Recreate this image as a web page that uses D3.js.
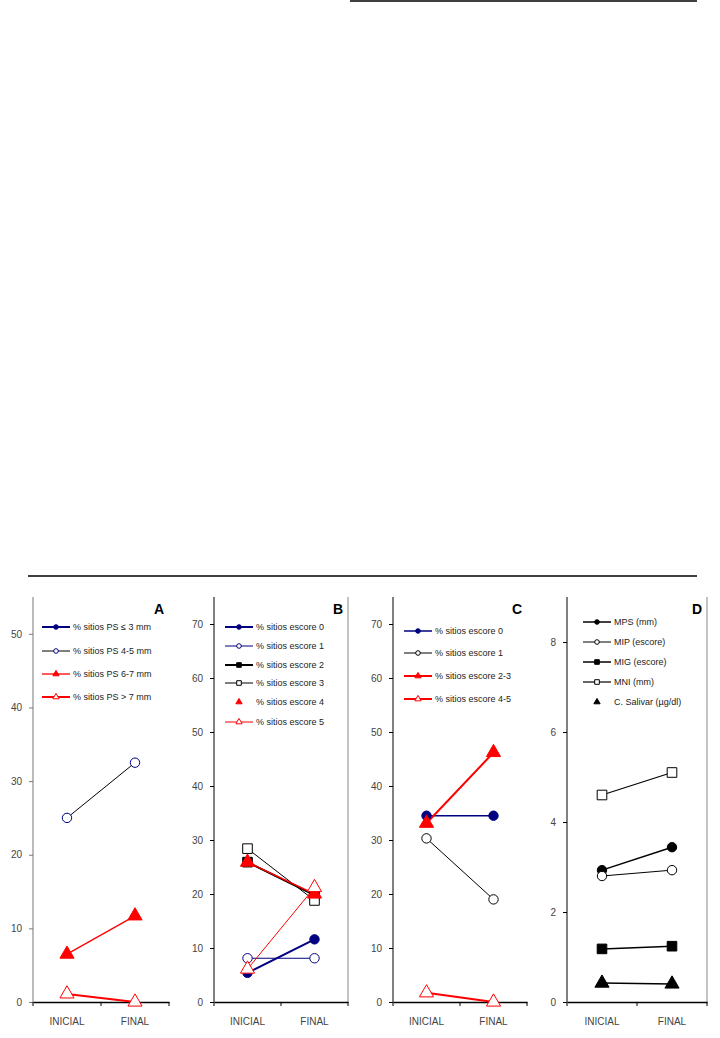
<!DOCTYPE html>
<html>
<head>
<meta charset="utf-8">
<script src="https://cdn.jsdelivr.net/npm/d3@7"></script>
<style>
  body { margin: 0; background: #fff; }
  text { font-family: "Liberation Sans", Arial, sans-serif; }
</style>
</head>
<body>
<svg id="chart" width="720" height="1038"></svg>
<script>
var categories = ['INICIAL', 'FINAL'];

// panel A
var namesA = ['% sitios PS \u2264 3 mm', '% sitios PS 4-5 mm', '% sitios PS 6-7 mm', '% sitios PS > 7 mm'];
var valuesA = [null, [25, 32.5], [6.5, 11.7], [1.1, 0]];
var ticksA = [0, 10, 20, 30, 40, 50];

// panel B
var namesB = ['% sitios escore 0', '% sitios escore 1', '% sitios escore 2', '% sitios escore 3', '% sitios escore 4', '% sitios escore 5'];
var valuesB = [[5.4, 11.6], [8.1, 8.1], [25.9, 19.8], [28.4, 18.8], [25.9, 20.0], [6.1, 21.2]];
var ticksB = [0, 10, 20, 30, 40, 50, 60, 70];

// panel C
var namesC = ['% sitios escore 0', '% sitios escore 1', '% sitios escore 2-3', '% sitios escore 4-5'];
var valuesC = [[34.5, 34.5], [30.3, 19.0], [33.1, 46.2], [1.7, 0]];
var ticksC = [0, 10, 20, 30, 40, 50, 60, 70];

// panel D
var namesD = ['MPS (mm)', 'MIP (escore)', 'MIG (escore)', 'MNI (mm)', 'C. Salivar (\u00b5g/dl)'];
var valuesD = [[2.93, 3.44], [2.8, 2.93], [1.18, 1.24], [4.6, 5.1], [0.42, 0.40]];
var ticksD = [0, 2, 4, 6, 8];

var NAVY = '#000080', RED = '#ff0000', BLK = '#000';

// marker shape / fill / line per series (legendLine false = only marker in legend)
var panels = [
  { letter: 'A', x0: 33, x1: 169, max: 55, names: namesA, values: valuesA, ticks: ticksA,
    yaxisColor: '#777', rightBorder: false, leg: { x: 42, ys: [627, 651, 674, 697] },
    styles: [
      { color: NAVY, lw: 2, shape: 'circle', fill: NAVY },
      { color: BLK, mcolor: NAVY, lw: 1, shape: 'circle', fill: '#fff' },
      { color: RED, lw: 1.3, shape: 'triangle', fill: RED },
      { color: RED, lw: 2, shape: 'triangle', fill: '#fff' }
    ] },
  { letter: 'B', x0: 214, x1: 348, max: 75, names: namesB, values: valuesB, ticks: ticksB,
    yaxisColor: '#000', rightBorder: true, leg: { x: 225, ys: [627, 646, 665, 683, 702, 722] },
    styles: [
      { color: NAVY, lw: 2, shape: 'circle', fill: NAVY },
      { color: NAVY, lw: 1, shape: 'circle', fill: '#fff' },
      { color: BLK, lw: 2, shape: 'square', fill: BLK },
      { color: BLK, lw: 1, shape: 'square', fill: '#fff' },
      { color: RED, lw: 1.5, shape: 'triangle', fill: RED, legendLine: false },
      { color: RED, lw: 1, shape: 'triangle', fill: '#fff' }
    ] },
  { letter: 'C', x0: 393, x1: 527, max: 75, names: namesC, values: valuesC, ticks: ticksC,
    yaxisColor: '#000', rightBorder: false, leg: { x: 404, ys: [631, 653, 676, 699] },
    styles: [
      { color: NAVY, lw: 1.5, shape: 'circle', fill: NAVY },
      { color: BLK, lw: 1, shape: 'circle', fill: '#fff' },
      { color: RED, lw: 2, shape: 'triangle', fill: RED },
      { color: RED, lw: 2, shape: 'triangle', fill: '#fff' }
    ] },
  { letter: 'D', x0: 567, x1: 707, max: 9, names: namesD, values: valuesD, ticks: ticksD,
    yaxisColor: '#000', rightBorder: true, leg: { x: 583, ys: [622, 642, 662, 682, 702] },
    styles: [
      { color: BLK, lw: 1.5, shape: 'circle', fill: BLK },
      { color: BLK, lw: 1, shape: 'circle', fill: '#fff' },
      { color: BLK, lw: 1.5, shape: 'square', fill: BLK },
      { color: BLK, lw: 1.2, shape: 'square', fill: '#fff' },
      { color: BLK, lw: 1.5, shape: 'triangle', fill: BLK, legendLine: false }
    ] }
];

var svg = d3.select('#chart');
var yTop = 597, yBot = 1002;

// horizontal rules
svg.append('line').attr('x1', 350).attr('x2', 697).attr('y1', 1).attr('y2', 1)
  .attr('stroke', '#000').attr('stroke-width', 1.5);
svg.append('line').attr('x1', 28).attr('x2', 697).attr('y1', 576).attr('y2', 576)
  .attr('stroke', '#000').attr('stroke-width', 1.5);

function marker(g, shape, cx, cy, size, fill, stroke) {
  var sym = shape === 'circle' ? d3.symbolCircle : shape === 'square' ? d3.symbolSquare : d3.symbolTriangle;
  var area = shape === 'circle' ? Math.PI * size * size : shape === 'square' ? 4 * size * size : 3.2 * size * size;
  g.append('path')
    .attr('d', d3.symbol().type(sym).size(area)())
    .attr('transform', 'translate(' + cx + ',' + cy + ')')
    .attr('fill', fill)
    .attr('stroke', stroke)
    .attr('stroke-width', 1);
}

panels.forEach(function (p) {
  var g = svg.append('g');
  var x = d3.scaleBand().domain(categories).range([p.x0, p.x1]).padding(0);
  var y = d3.scaleLinear().domain([0, p.max]).range([yBot, yTop]);

  // y axis
  var ya = g.append('g').attr('transform', 'translate(' + p.x0 + ',0)')
    .call(d3.axisLeft(y).tickValues(p.ticks).tickSize(4).tickPadding(7).tickSizeOuter(0));
  ya.select('.domain').attr('stroke', p.yaxisColor).attr('d', 'M0,' + yTop + 'V' + yBot);
  ya.selectAll('.tick line').attr('stroke', p.yaxisColor);
  ya.selectAll('.tick text').attr('font-size', 10).attr('fill', '#444')
    .attr('font-family', '"Liberation Sans", Arial, sans-serif');

  if (p.rightBorder) {
    g.append('line').attr('x1', p.x1).attr('x2', p.x1).attr('y1', yTop).attr('y2', yBot)
      .attr('stroke', '#888').attr('stroke-width', 1);
  }

  // x axis
  var xa = g.append('g').attr('transform', 'translate(0,' + yBot + ')')
    .call(d3.axisBottom(x).tickSize(0).tickPadding(16));
  xa.select('.domain').attr('stroke', '#000').attr('stroke-width', 1.5);
  xa.selectAll('.tick text').attr('font-size', 10).attr('fill', '#444')
    .attr('font-family', '"Liberation Sans", Arial, sans-serif');
  [p.x0, (p.x0 + p.x1) / 2, p.x1].forEach(function (tx) {
    g.append('line').attr('x1', tx).attr('x2', tx).attr('y1', yBot).attr('y2', yBot + 4)
      .attr('stroke', '#000').attr('stroke-width', 1);
  });

  // series
  var cx = function (i) { return x(categories[i]) + x.bandwidth() / 2; };
  p.values.forEach(function (vals, si) {
    if (!vals) return;
    var s = p.styles[si];
    var line = d3.line().x(function (d, i) { return cx(i); }).y(function (d) { return y(d); });
    g.append('path').datum(vals).attr('d', line).attr('fill', 'none')
      .attr('stroke', s.color).attr('stroke-width', s.lw);
  });
  p.values.forEach(function (vals, si) {
    if (!vals) return;
    var s = p.styles[si];
    var sz = s.shape === 'square' ? 4.8 : s.shape === 'triangle' ? 5.2 : 4.7;
    vals.forEach(function (v, i) {
      marker(g, s.shape, cx(i), y(v), sz, s.fill, s.mcolor || s.color);
    });
  });

  // legend
  p.names.forEach(function (name, si) {
    var s = p.styles[si];
    var ly = p.leg.ys[si];
    if (s.legendLine !== false) {
      g.append('line').attr('x1', p.leg.x).attr('x2', p.leg.x + 28).attr('y1', ly).attr('y2', ly)
        .attr('stroke', s.color).attr('stroke-width', s.lw);
    }
    marker(g, s.shape, p.leg.x + 14, ly, 2.3, s.fill, s.mcolor || s.color);
    g.append('text').attr('x', p.leg.x + 31).attr('y', ly + 3.3)
      .attr('font-size', 9).attr('fill', '#222').text(name);
  });

  // panel letter
  g.append('text').attr('x', p.x1 - 10).attr('y', 614).attr('text-anchor', 'middle')
    .attr('font-size', 14).attr('font-weight', 'bold').attr('fill', '#000').text(p.letter);
});
</script>
</body>
</html>
